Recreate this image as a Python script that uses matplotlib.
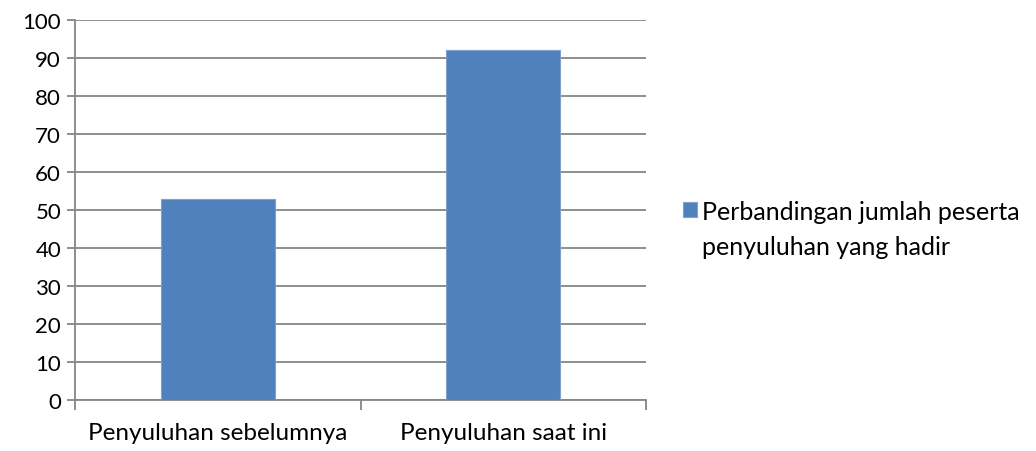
import matplotlib.pyplot as plt

kategori = ['Penyuluhan sebelumnya', 'Penyuluhan saat ini']
jumlah_hadir = [53, 92]
label_seri = 'Perbandingan jumlah peserta'
label_seri_2 = 'penyuluhan yang hadir'
yticks = list(range(0, 101, 10))

plt.rcParams['font.family'] = ['Lato', 'DejaVu Sans']
abu = '#868686'

fig = plt.figure(figsize=(10.36, 4.52), dpi=100)
ax = fig.add_axes([0.0724, 0.1128, 0.5512, 0.8407])

x = list(range(len(kategori)))
ax.bar(x, jumlah_hadir, width=0.4, color='#4F81BD', edgecolor='#7FA0CF',
       linewidth=0.8, label=label_seri, zorder=3)

ax.set_xlim(-0.5, len(kategori) - 0.5)
ax.set_ylim(0, 100)
ax.set_yticks(yticks)
ax.yaxis.grid(True, color=abu, linewidth=1.3)
ax.set_axisbelow(True)

# tick x di batas kategori, label di tengah
ax.set_xticks([-0.5, 0.5, 1.5])
ax.set_xticklabels([])
ax.set_xticks(x, minor=True)
ax.set_xticklabels(kategori, minor=True, fontsize=17.5)
ax.tick_params(axis='x', which='minor', length=0, pad=16)
ax.tick_params(axis='x', which='major', length=7, width=1.3, color=abu)
ax.tick_params(axis='y', length=6, width=1.3, color=abu, labelsize=16, pad=4)

for s in ['top', 'right']:
    ax.spines[s].set_visible(False)
for s in ['left', 'bottom']:
    ax.spines[s].set_color(abu)
    ax.spines[s].set_linewidth(1.3)

leg = fig.legend(loc='center left', bbox_to_anchor=(0.659, 1 - 212 / 452),
                 frameon=False, fontsize=18, handlelength=0.56, handleheight=0.56,
                 handletextpad=0.2, borderpad=0, borderaxespad=0)
fig.text(0.6776, 1 - 248 / 452, label_seri_2, fontsize=18, va='center', ha='left')

plt.savefig('out.png', dpi=100)
plt.close()
